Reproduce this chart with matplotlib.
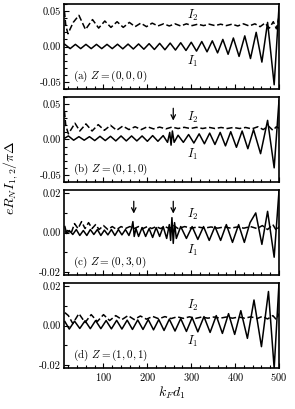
import matplotlib
matplotlib.use("Agg")
import matplotlib.pyplot as plt
from matplotlib.ticker import MultipleLocator

plt.rcParams["font.family"] = "cmr10"
plt.rcParams["mathtext.fontset"] = "cm"
plt.rcParams["axes.unicode_minus"] = False
plt.rcParams["axes.formatter.use_mathtext"] = True

# ---- data: extrema (k_F d_1, eR_N I / pi Delta) ----
a_i1_x = [12, 24, 36, 48, 60, 72, 84, 96, 108, 120, 132, 144, 156, 168, 180, 192, 204,
          216, 228, 240, 252, 264, 276, 288, 300, 312, 324, 336, 348, 360, 372, 384,
          396, 409, 422, 435, 448, 461, 474, 489, 500]
a_i1_y = [0.003, -0.003, 0.003, -0.003, 0.003, -0.003, 0.003, -0.003, 0.003, -0.003,
          0.0032, -0.0033, 0.0034, -0.0035, 0.0036, -0.0038, 0.004, -0.0042, 0.0044,
          -0.0046, 0.0048, -0.005, 0.0053, -0.0056, 0.006, -0.0065, 0.007, -0.0075,
          0.008, -0.009, 0.010, -0.011, 0.012, -0.014, 0.015, -0.017, 0.020, -0.022,
          0.034, -0.054, 0.056]
a_i2_x = [11, 14, 19, 31, 44, 59, 75, 89, 103, 117, 131, 145, 159, 172, 185, 198, 211,
          224, 237, 250, 263, 276, 289, 302, 315, 328, 341, 354, 367, 380, 393, 406,
          419, 432, 445, 457, 468, 478, 487, 494, 500]
a_i2_y = [0.050, 0.030, 0.018, 0.034, 0.044, 0.024, 0.038, 0.026, 0.036, 0.027, 0.035,
          0.027, 0.034, 0.028, 0.033, 0.028, 0.033, 0.029, 0.032, 0.029, 0.032, 0.029,
          0.032, 0.0295, 0.0315, 0.0295, 0.0315, 0.0295, 0.0315, 0.0295, 0.0315, 0.029,
          0.032, 0.029, 0.032, 0.028, 0.033, 0.026, 0.035, 0.025, 0.042]

b_i1_x = [12, 20, 32, 44, 56, 68, 80, 92, 104, 116, 128, 140, 152, 164, 176, 188, 200,
          212, 224, 236, 246, 251, 254, 257, 261, 270, 282, 294, 306, 318, 330, 342,
          354, 366, 378, 390, 403, 416, 429, 442, 458, 474, 489, 500]
b_i1_y = [0.002, 0.005, -0.001, 0.004, -0.001, 0.004, -0.0015, 0.0045, -0.0015, 0.0045,
          -0.002, 0.005, -0.002, 0.005, -0.002, 0.005, -0.0025, 0.0055, -0.0025, 0.0055,
          -0.004, 0.010, -0.008, 0.012, -0.004, 0.006, -0.004, 0.007, -0.005, 0.008,
          -0.006, 0.009, -0.007, 0.010, -0.009, 0.011, -0.011, 0.012, -0.013, 0.014,
          -0.020, 0.027, -0.040, 0.055]
b_i2_x = [11, 14, 20, 35, 46, 60, 74, 88, 102, 116, 130, 144, 158, 172, 186, 200, 214,
          228, 242, 256, 270, 284, 298, 312, 326, 340, 354, 368, 382, 396, 410, 424,
          438, 452, 464, 476, 486, 494, 500]
b_i2_y = [0.040, 0.020, 0.008, 0.023, 0.012, 0.022, 0.012, 0.021, 0.013, 0.020, 0.013,
          0.019, 0.014, 0.018, 0.014, 0.018, 0.015, 0.0175, 0.015, 0.0175, 0.0155, 0.0172,
          0.0155, 0.0172, 0.0155, 0.0172, 0.0155, 0.017, 0.0155, 0.017, 0.0155, 0.017,
          0.015, 0.018, 0.014, 0.019, 0.013, 0.018, 0.016]

c_i1_x = [12, 16, 22, 30, 38, 46, 54, 62, 70, 78, 86, 94, 102, 110, 118, 126, 134, 142,
          150, 158, 164, 167, 170, 174, 180, 188, 196, 204, 212, 220, 228, 236, 244,
          250, 253, 256, 259, 262, 266, 276, 289, 302, 315, 328, 341, 354, 367, 380,
          394, 408, 421, 434, 447, 461, 474, 489, 500]
c_i1_y = [0.003, -0.0005, 0.001, -0.001, 0.0015, -0.0015, 0.001, -0.0015, 0.0015, -0.001,
          0.0015, -0.0015, 0.0012, -0.0012, 0.0015, -0.0015, 0.0015, -0.0012, 0.0015,
          -0.0015, 0.002, 0.0055, -0.002, 0.002, -0.002, 0.0025, -0.002, 0.002, -0.0025,
          0.0025, -0.002, 0.003, -0.003, 0.004, -0.004, 0.0075, -0.0055, 0.005, -0.003,
          0.003, -0.003, 0.003, -0.0035, 0.003, -0.004, 0.003, -0.004, 0.004, -0.005,
          0.004, -0.005, 0.005, 0.0099, -0.006, 0.0107, -0.0125, 0.021]
c_i2_x = [12, 18, 26, 34, 42, 50, 58, 66, 74, 82, 90, 100, 110, 120, 130, 140, 150, 160,
          170, 180, 190, 200, 210, 220, 230, 240, 250, 260, 270, 285, 300, 315, 330,
          345, 360, 375, 390, 405, 420, 435, 450, 462, 474, 486, 494, 500]
c_i2_y = [0.0, 0.001, -0.0005, 0.0045, 0.002, 0.0055, 0.002, 0.005, 0.002, 0.004, 0.0015,
          0.0035, 0.0015, 0.003, 0.0015, 0.003, 0.002, 0.003, 0.002, 0.003, 0.002, 0.003,
          0.002, 0.003, 0.002, 0.003, 0.002, 0.0035, 0.002, 0.003, 0.0022, 0.0028,
          0.0022, 0.0028, 0.0022, 0.0028, 0.0022, 0.0028, 0.0022, 0.003, 0.002, 0.0035,
          0.0015, 0.004, 0.001, 0.003]

d_i1_x = [12, 22, 34, 46, 58, 70, 82, 94, 106, 118, 130, 142, 154, 166, 178, 190, 202,
          214, 226, 238, 250, 263, 276, 289, 302, 315, 329, 343, 357, 371, 385, 399,
          413, 428, 443, 460, 476, 489, 500]
d_i1_y = [0.002, -0.0018, 0.0022, -0.0015, 0.0024, -0.0016, 0.0025, -0.0016, 0.0025,
          -0.0017, 0.0026, -0.0018, 0.0027, -0.002, 0.0028, -0.002, 0.003, -0.0022, 0.003,
          -0.0025, 0.0032, -0.0028, 0.0035, -0.003, 0.004, -0.0032, 0.0045, -0.0035,
          0.005, -0.004, 0.006, -0.0045, 0.0075, -0.0065, 0.0129, -0.0107, 0.0172,
          -0.0217, 0.0215]
d_i2_x = [12, 20, 30, 44, 58, 72, 86, 100, 114, 128, 142, 156, 170, 184, 198, 212, 226,
          240, 254, 268, 282, 296, 310, 324, 338, 352, 366, 380, 394, 408, 422, 436,
          450, 462, 474, 486, 494, 500]
d_i2_y = [0.0065, 0.005, 0.001, 0.006, 0.0015, 0.0055, 0.002, 0.0055, 0.0025, 0.005,
          0.003, 0.005, 0.003, 0.0048, 0.0032, 0.0046, 0.0034, 0.0045, 0.0035, 0.0044,
          0.0036, 0.0044, 0.0036, 0.0043, 0.0037, 0.0043, 0.0037, 0.0043, 0.0037, 0.0043,
          0.0037, 0.0044, 0.0035, 0.0046, 0.0033, 0.005, 0.003, 0.006]

panel_tags = ["(a) $Z=(0,0,0)$", "(b) $Z=(0,1,0)$", "(c) $Z=(0,3,0)$", "(d) $Z=(1,0,1)$"]
arrow_x = [[], [259], [169, 259]]

panels = [
    (a_i1_x, a_i1_y, a_i2_x, a_i2_y),
    (b_i1_x, b_i1_y, b_i2_x, b_i2_y),
    (c_i1_x, c_i1_y, c_i2_x, c_i2_y),
    (d_i1_x, d_i1_y, d_i2_x, d_i2_y),
]
ylims = [0.06, 0.06, 0.0215, 0.0215]
ymajor = [0.05, 0.05, 0.02, 0.02]
i2_pos = [0.87, 0.76, 0.71, 0.74]
i1_pos = [0.32, 0.32, 0.29, 0.31]

fig = plt.figure(figsize=(2.95, 4.09), dpi=100)
left, width, height = 64 / 295, 215 / 295, 85 / 409
tops = [4, 97, 190, 283]

for k, (x1, y1, x2, y2) in enumerate(panels):
    ax = fig.add_axes([left, 1 - (tops[k] + 85) / 409, width, height])
    ax.plot(x1, y1, color="black", lw=1.1, solid_joinstyle="round")
    ax.plot(x2, y2, color="black", lw=1.1, dashes=(4, 1.8))

    lim = ylims[k]
    m = ymajor[k]
    ax.set_xlim(10, 500)
    ax.set_ylim(-lim, lim)
    ax.set_yticks([-m, 0, m], [f"-{m:.2f}", "0.00", f"{m:.2f}"])
    ax.yaxis.set_minor_locator(MultipleLocator(0.01))
    ax.set_xticks([100, 200, 300, 400, 500])
    ax.xaxis.set_minor_locator(MultipleLocator(20))
    if k < 3:
        ax.set_xticklabels([])
    ax.tick_params(which="both", direction="in", labelsize=7.5, width=0.8, pad=2)
    ax.tick_params(which="major", length=3.5)
    ax.tick_params(which="minor", length=2)
    for sp in ax.spines.values():
        sp.set_linewidth(1.2)

    ax.text(0.04, 0.15, panel_tags[k], transform=ax.transAxes, fontsize=8, va="center")
    ax.text(304, -lim + 2 * lim * i2_pos[k], "$I_2$", fontsize=9, ha="center", va="center")
    ax.text(304, -lim + 2 * lim * i1_pos[k], "$I_1$", fontsize=9, ha="center", va="center")

    if k in (1, 2):
        for xa in arrow_x[k]:
            ax.annotate("", xy=(xa, lim * 0.38), xytext=(xa, lim * 0.8),
                        arrowprops=dict(arrowstyle="->", color="black", lw=0.9,
                                        mutation_scale=8))

    if k == 3:
        ax.set_xlabel("$k_Fd_1$", fontsize=10, labelpad=1)

fig.text(0.035, 0.565, r"$eR_NI_{1,2}/\pi\Delta$", rotation=90, fontsize=10,
         ha="center", va="center")

fig.savefig("out.png", dpi=100)
